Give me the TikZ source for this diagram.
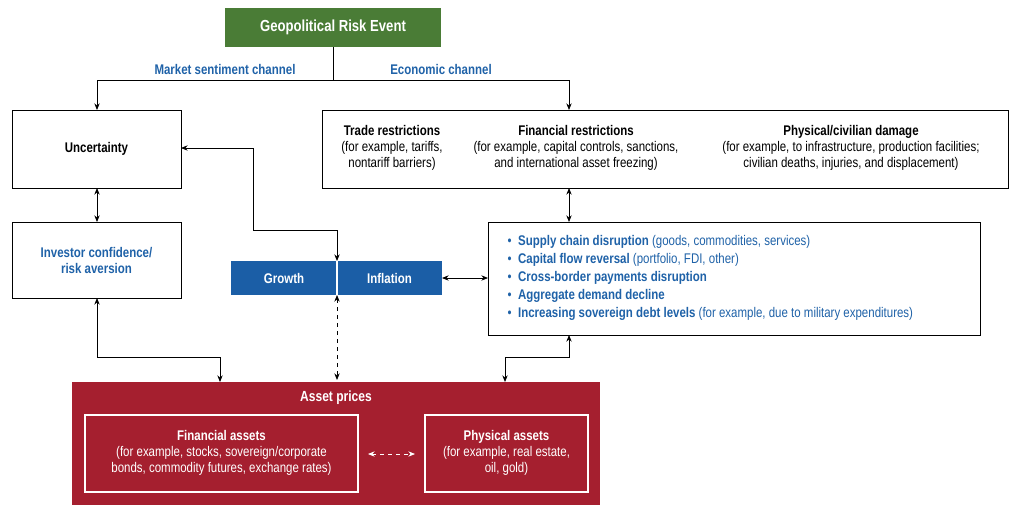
\documentclass[tikz,border=0pt]{standalone}
\usepackage{fontspec}
\setmainfont{Liberation Sans}[FakeStretch=0.82]
\usetikzlibrary{arrows.meta}
\definecolor{gr}{HTML}{4A7C36}
\definecolor{bl}{HTML}{1B5EA6}
\definecolor{tb}{HTML}{1F62A8}
\definecolor{rd}{HTML}{A51F2F}
\begin{document}
\begin{tikzpicture}[x=0.75pt,y=-0.75pt,
  box/.style={draw=black,line width=0.6pt,fill=white},
  ar/.style={-{Stealth[length=5pt,width=4pt]},line width=0.6pt},
  dar/.style={{Stealth[length=5pt,width=4pt]}-{Stealth[length=5pt,width=4pt]},line width=0.6pt},
  t/.style={font=\fontsize{10.5}{12}\selectfont,align=center},
  b/.style={font=\fontsize{10.5}{12}\selectfont\bfseries,align=center}]
\useasboundingbox (0,0) rectangle (1024,518);
% top
\node[fill=gr,minimum width=162pt,minimum height=29pt,text=white,b,font=\fontsize{12}{14}\selectfont\bfseries] (geo) at (333,27.5) {Geopolitical Risk Event};
\node[b,text=tb] at (225,69) {Market sentiment channel};
\node[b,text=tb] at (441,69) {Economic channel};
% boxes
\draw[box] (12,110) rectangle (181,188); \node[b] (unc) at (96.5,149) {Uncertainty};
\coordinate (uncR) at (181,148);
\draw[box] (322,110) rectangle (1008,188);
\node[t] (tr) at (392,148) {\textbf{Trade restrictions}\\(for example, tariffs,\\nontariff barriers)};
\node[t] (fr) at (576,148) {\textbf{Financial restrictions}\\(for example, capital controls, sanctions,\\and international asset freezing)};
\node[t] (pd) at (851,148) {\textbf{Physical/civilian damage}\\(for example, to infrastructure, production facilities;\\civilian deaths, injuries, and displacement)};
\draw[box] (12,222) rectangle (181,298); \node[b,text=tb] (inv) at (96.5,260) {Investor confidence/\\risk aversion};
\draw[box] (488,222) rectangle (980,335);
\node[font=\fontsize{10.5}{13.5}\selectfont,align=left,anchor=west,text=tb] (bul) at (503,278) {%
\textbullet\ \ \textbf{Supply chain disruption} (goods, commodities, services)\\
\textbullet\ \ \textbf{Capital flow reversal} (portfolio, FDI, other)\\
\textbullet\ \ \textbf{Cross-border payments disruption}\\
\textbullet\ \ \textbf{Aggregate demand decline}\\
\textbullet\ \ \textbf{Increasing sovereign debt levels} (for example, due to military expenditures)};
% growth inflation
\fill[bl] (231,261) rectangle (442,295);
\draw[white,line width=0.8pt] (337,261) -- (337,295);
\node[b,text=white] (gro) at (284,278) {Growth};
\node[b,text=white] (inf) at (389.5,278) {Inflation};
% asset prices
\fill[rd] (72,382) rectangle (600,505);
\node[b,text=white,font=\fontsize{11}{13}\selectfont\bfseries] (ap) at (336,398) {Asset prices};
\draw[white,line width=0.8pt] (85,415) rectangle (358,492);
\draw[white,line width=0.8pt] (425,415) rectangle (588,492);
\node[t,text=white] (fa) at (221.5,453) {\textbf{Financial assets}\\(for example, stocks, sovereign/corporate\\bonds, commodity futures, exchange rates)};
\node[t,text=white] (pa) at (506.5,453) {\textbf{Physical assets}\\(for example, real estate,\\oil, gold)};
\draw[dar,white,dashed] (368,454) -- (415,454);
% connectors
\coordinate (j) at (333,80);
\draw[line width=0.6pt] (geo.south) -- (j);
\draw[ar] (j) -- (97,80) -- (97,110);
\draw[ar] (j) -- (569,80) -- (569,110);
\draw[dar] (97,188) -- (97,222);
\draw[dar] (569,188) -- (569,222);
\draw[dar] (uncR) -- (253,148) -- (253,230) -- (337,230) -- (337,261);
\draw[dar] (442,278) -- (488,278);
\draw[dar,dashed] (337,295) -- (337,380);
\draw[dar] (97,298) -- (97,357) -- (220,357) -- (220,382);
\draw[dar] (569,335) -- (569,357) -- (505,357) -- (505,382);
\end{tikzpicture}
\end{document}
